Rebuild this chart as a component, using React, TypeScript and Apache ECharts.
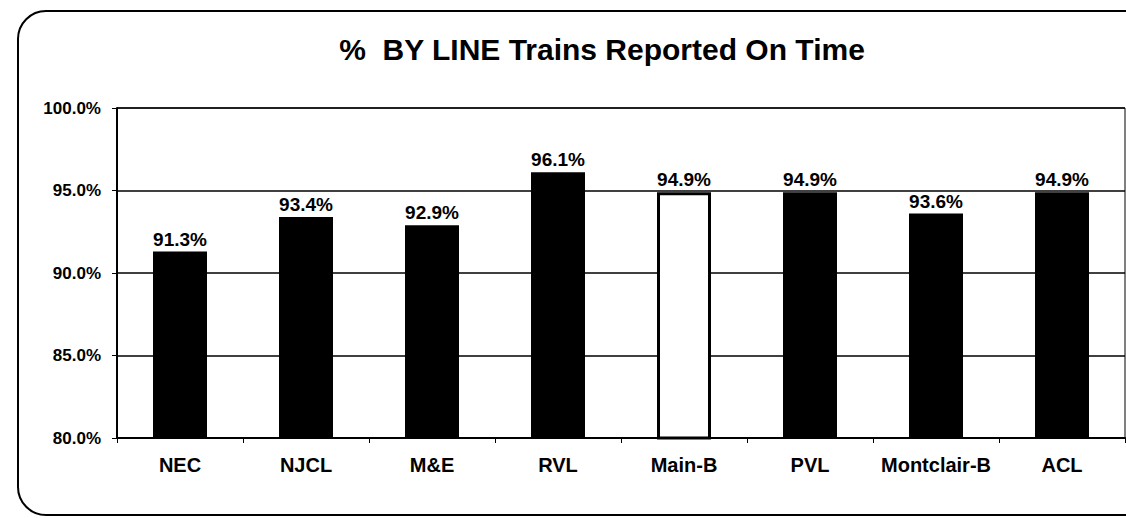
import React, { useEffect, useRef } from "react";
import * as echarts from "echarts";

const categories = ["NEC", "NJCL", "M&E", "RVL", "Main-B", "PVL", "Montclair-B", "ACL"];
const values = [91.3, 93.4, 92.9, 96.1, 94.9, 94.9, 93.6, 94.9];
const highlighted = "Main-B";
const titleText = "%  BY LINE Trains Reported On Time";

export default function App() {
  const ref = useRef<HTMLDivElement>(null);
  useEffect(() => {
    if (!ref.current) return;
    const chart = echarts.init(ref.current, null, { renderer: "svg" });
    const font = "'Liberation Sans', Arial, sans-serif";
    chart.setOption({
      animation: false,
      backgroundColor: "#ffffff",
      textStyle: { fontFamily: font },
      title: {
        text: titleText,
        left: 597,
        textAlign: "center",
        top: 29,
        textStyle: { fontSize: 30, fontWeight: "bold", color: "#000", fontFamily: font },
      },
      graphic: [
        {
          type: "rect",
          shape: { x: 18, y: 11, width: 1140, height: 504, r: 28 },
          style: { fill: "none", stroke: "#000", lineWidth: 2 },
          silent: true,
          z: 0,
        },
      ],
      grid: {
        left: 117,
        top: 108,
        right: 1,
        bottom: 80,
        show: true,
        borderColor: "#000",
        borderWidth: 1,
        backgroundColor: "transparent",
      },
      xAxis: {
        type: "category",
        data: categories,
        axisLine: { lineStyle: { color: "#000", width: 2 } },
        axisTick: { show: true, length: 5, lineStyle: { color: "#000" } },
        axisLabel: {
          color: "#000",
          fontWeight: "bold",
          fontSize: 20,
          margin: 17,
          interval: 0,
          fontFamily: font,
        },
      },
      yAxis: {
        type: "value",
        min: 80,
        max: 100,
        interval: 5,
        axisLine: { show: true, lineStyle: { color: "#000", width: 2 } },
        axisTick: { show: true, length: 5, lineStyle: { color: "#000" } },
        splitLine: { show: true, lineStyle: { color: "#000", width: 1.5 } },
        axisLabel: {
          color: "#000",
          fontWeight: "bold",
          fontSize: 17,
          margin: 16,
          fontFamily: font,
          formatter: (v: number) => v.toFixed(1) + "%",
        },
      },
      series: [
        {
          type: "bar",
          barWidth: 54,
          data: categories.map((c, i) => ({
            value: values[i],
            itemStyle:
              c === highlighted
                ? { color: "#ffffff", borderColor: "#000", borderWidth: 3 }
                : { color: "#000000" },
          })),
          label: {
            show: true,
            position: "top",
            distance: 3,
            color: "#000",
            fontWeight: "bold",
            fontSize: 19,
            fontFamily: font,
            formatter: (p: any) => Number(p.value).toFixed(1) + "%",
          },
        },
      ],
    });
    return () => chart.dispose();
  }, []);
  return (
    <div
      ref={ref}
      style={{ position: "fixed", left: 0, top: 0, width: 1126, height: 518 }}
    />
  );
}
